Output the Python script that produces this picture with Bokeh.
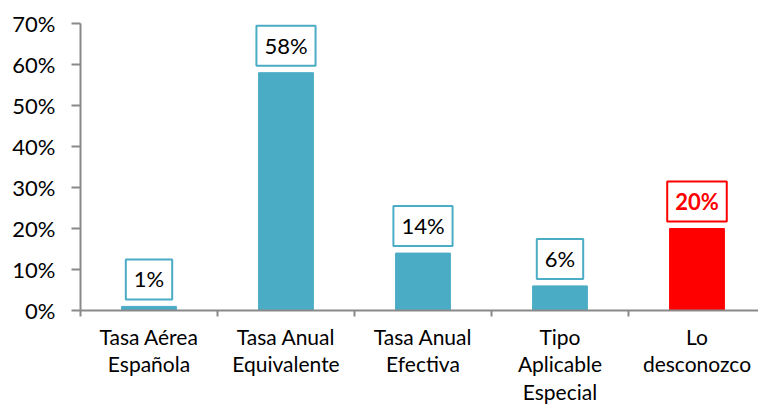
from bokeh.plotting import figure
from bokeh.models import Range1d, FixedTicker, Label, ColumnDataSource
from bokeh.embed import file_html
from bokeh.resources import INLINE

categories = ["Tasa Aérea\nEspañola", "Tasa Anual\nEquivalente", "Tasa Anual\nEfectiva",
              "Tipo\nAplicable\nEspecial", "Lo\ndesconozco"]
values = [1, 58, 14, 6, 20]
labels = ["1%", "58%", "14%", "6%", "20%"]
colors = ["#4BACC6", "#4BACC6", "#4BACC6", "#4BACC6", "#FF0000"]
y_ticks = [0, 10, 20, 30, 40, 50, 60, 70]
y_tick_labels = ["0%", "10%", "20%", "30%", "40%", "50%", "60%", "70%"]

FONT = "Lato"
xs = list(range(len(categories)))

p = figure(width=758, height=407, output_backend="svg", toolbar_location=None,
           x_range=Range1d(-0.5, 4.449), y_range=Range1d(0, 70),
           min_border_left=80, min_border_right=0, min_border_top=23, min_border_bottom=97)
p.outline_line_color = None
p.xgrid.visible = False
p.ygrid.visible = False

src = ColumnDataSource(dict(x=xs, top=values, color=colors))
p.vbar(x="x", top="top", width=0.4, color="color", source=src)

for x, v, lab, c in zip(xs, values, labels, colors):
    red = c == "#FF0000"
    p.add_layout(Label(x=x, y=v, y_offset=7, text=lab, text_align="center",
                       text_baseline="bottom", text_font=FONT, text_font_size="22px",
                       text_color="#FF0000" if red else "#000000",
                       text_font_style="bold" if red else "normal",
                       border_line_color=c, border_line_width=2,
                       background_fill_color="white",
                       padding=dict(left=8, right=8, top=6, bottom=7)))

axis_color = "#898989"
xa = p.xaxis[0]
xa.ticker = FixedTicker(ticks=xs, minor_ticks=[-0.5, 0.5, 1.5, 2.5, 3.5, 4.5])
xa.major_label_overrides = {i: c for i, c in enumerate(categories)}
xa.major_tick_line_color = None
xa.major_tick_out = 0
xa.major_tick_in = 0
xa.minor_tick_out = 6
xa.minor_tick_in = 0
xa.minor_tick_line_color = axis_color
xa.minor_tick_line_width = 2
xa.axis_line_color = axis_color
xa.axis_line_width = 2
xa.major_label_standoff = 7
xa.major_label_text_font = FONT
xa.major_label_text_font_size = "21px"
xa.major_label_text_line_height = 1.1
xa.major_label_text_color = "#000000"

ya = p.yaxis[0]
ya.ticker = FixedTicker(ticks=y_ticks, minor_ticks=[])
ya.major_label_overrides = {t: l for t, l in zip(y_ticks, y_tick_labels)}
ya.major_tick_out = 9
ya.major_tick_in = 0
ya.major_tick_line_color = axis_color
ya.major_tick_line_width = 2
ya.axis_line_color = axis_color
ya.axis_line_width = 2
ya.major_label_standoff = 16
ya.major_label_text_font = FONT
ya.major_label_text_font_size = "22px"
ya.major_label_text_color = "#000000"

open("out.html", "w").write(file_html(p, INLINE))
